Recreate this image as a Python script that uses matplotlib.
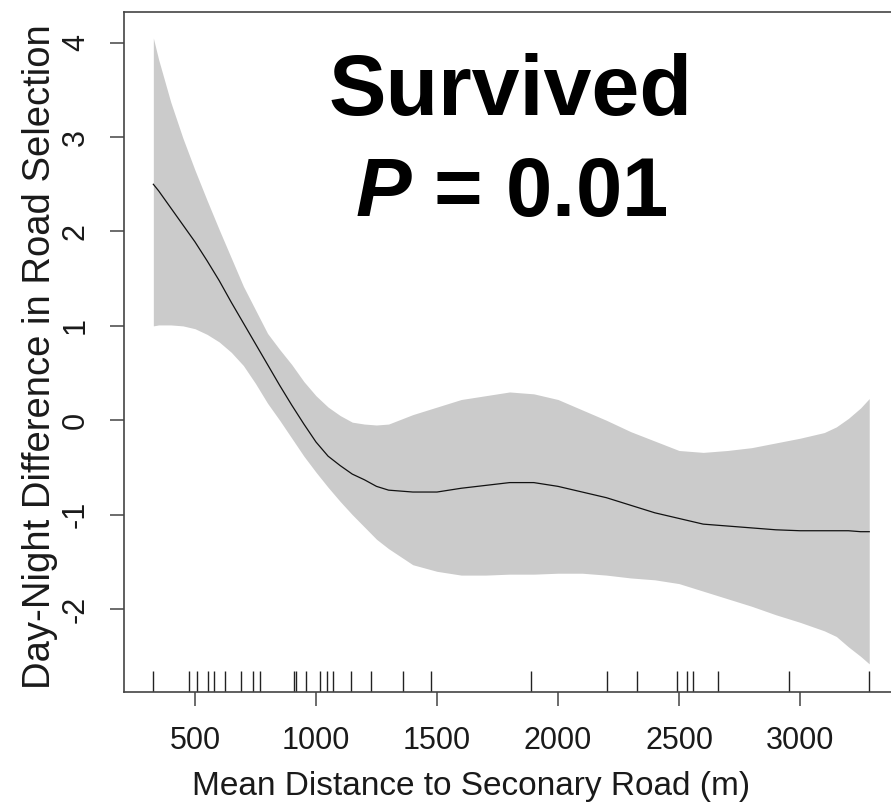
import matplotlib
matplotlib.use("Agg")
import matplotlib.pyplot as plt
import numpy as np

plt.rcParams['font.family'] = ['Liberation Sans', 'DejaVu Sans']
plt.rcParams['mathtext.fontset'] = 'custom'
plt.rcParams['mathtext.it'] = 'Liberation Sans:italic:bold'
plt.rcParams['mathtext.rm'] = 'Liberation Sans:bold'

# Smooth fit (distance in m) and its confidence band
dist = [328, 350, 400, 450, 500, 550, 600, 650, 700, 750, 800, 850, 900, 950,
        1000, 1050, 1100, 1150, 1200, 1250, 1300, 1400, 1500, 1600, 1700, 1800,
        1900, 2000, 2100, 2200, 2300, 2400, 2500, 2600, 2700, 2800, 2900, 3000,
        3100, 3150, 3200, 3250, 3286]
fit = [2.50, 2.43, 2.25, 2.07, 1.89, 1.69, 1.48, 1.25, 1.03, 0.81, 0.59, 0.37,
       0.16, -0.04, -0.23, -0.38, -0.48, -0.57, -0.63, -0.70, -0.74, -0.76,
       -0.76, -0.72, -0.69, -0.66, -0.66, -0.70, -0.76, -0.82, -0.90, -0.98,
       -1.04, -1.10, -1.12, -1.14, -1.16, -1.17, -1.17, -1.17, -1.17, -1.18,
       -1.18]
upper = [4.05, 3.82, 3.37, 2.99, 2.65, 2.33, 2.02, 1.72, 1.42, 1.17, 0.92, 0.75,
         0.59, 0.41, 0.26, 0.14, 0.05, -0.02, -0.04, -0.05, -0.04, 0.06, 0.14,
         0.22, 0.26, 0.30, 0.28, 0.22, 0.11, 0.00, -0.12, -0.22, -0.32, -0.34,
         -0.32, -0.29, -0.24, -0.19, -0.13, -0.07, 0.02, 0.13, 0.23]
lower = [1.00, 1.01, 1.01, 1.00, 0.97, 0.91, 0.83, 0.72, 0.58, 0.39, 0.18, 0.00,
         -0.19, -0.38, -0.55, -0.71, -0.86, -1.00, -1.13, -1.26, -1.36, -1.53,
         -1.60, -1.64, -1.64, -1.63, -1.63, -1.62, -1.62, -1.64, -1.67, -1.69,
         -1.73, -1.81, -1.89, -1.97, -2.06, -2.14, -2.23, -2.29, -2.40, -2.50,
         -2.58]

# Rug of observed distances
rug = [328, 475, 510, 555, 579, 624, 689, 738, 769, 909, 917, 957, 1017, 1044,
       1069, 1143, 1226, 1361, 1474, 1887, 2204, 2325, 2490, 2532, 2557, 2662,
       2955, 3286]

xticks = [500, 1000, 1500, 2000, 2500, 3000]
yticks = [-2, -1, 0, 1, 2, 3, 4]

W, H = 891, 808
fig = plt.figure(figsize=(W / 100, H / 100), dpi=100)
L, R, T, B = 124.3, 897.8, 11.7, 691.7
ax = fig.add_axes([L / W, 1 - B / H, (R - L) / W, (B - T) / H])

ax.fill_between(dist, lower, upper, color='#cbcbcb', linewidth=0)
ax.plot(dist, fit, color='#111111', lw=0.9)
ax.vlines(rug, 0, 0.03, transform=ax.get_xaxis_transform(), color='#222222', lw=1.0)

ax.set_xlim(208, 3404)
ax.set_ylim(-2.875, 4.328)
ax.set_xticks(xticks)
ax.set_yticks(yticks)
ax.set_xticklabels([str(v) for v in xticks])
ax.set_yticklabels([str(v) for v in yticks])

for s in ax.spines.values():
    s.set_color('#444444')
    s.set_linewidth(1.2)

ax.tick_params(axis='both', direction='out', length=10, width=1.1,
               color='#444444', labelsize=22, labelcolor='#1a1a1a')
ax.tick_params(axis='x', pad=15)
ax.tick_params(axis='y', pad=14)
for lab in ax.get_yticklabels():
    lab.set_rotation(90)
    lab.set_va('center')

fig.text(471 / W, 1 - 795 / H, 'Mean Distance to Seconary Road (m)', ha='center',
         va='baseline', fontsize=24, color='#1a1a1a')
fig.text(40 / W, 1 - 357 / H, 'Day-Night Difference in Road Selection', ha='center',
         va='center', rotation=90, fontsize=27.5, color='#1a1a1a')

fig.text(511 / W, 1 - 115 / H, 'Survived', ha='center', va='baseline',
         fontsize=62, fontweight='bold', color='black')
fig.text(511 / W, 1 - 216 / H, r'$P$ = 0.01', ha='center', va='baseline',
         fontsize=60, fontweight='bold', color='black')

fig.savefig('out.png', dpi=100)
